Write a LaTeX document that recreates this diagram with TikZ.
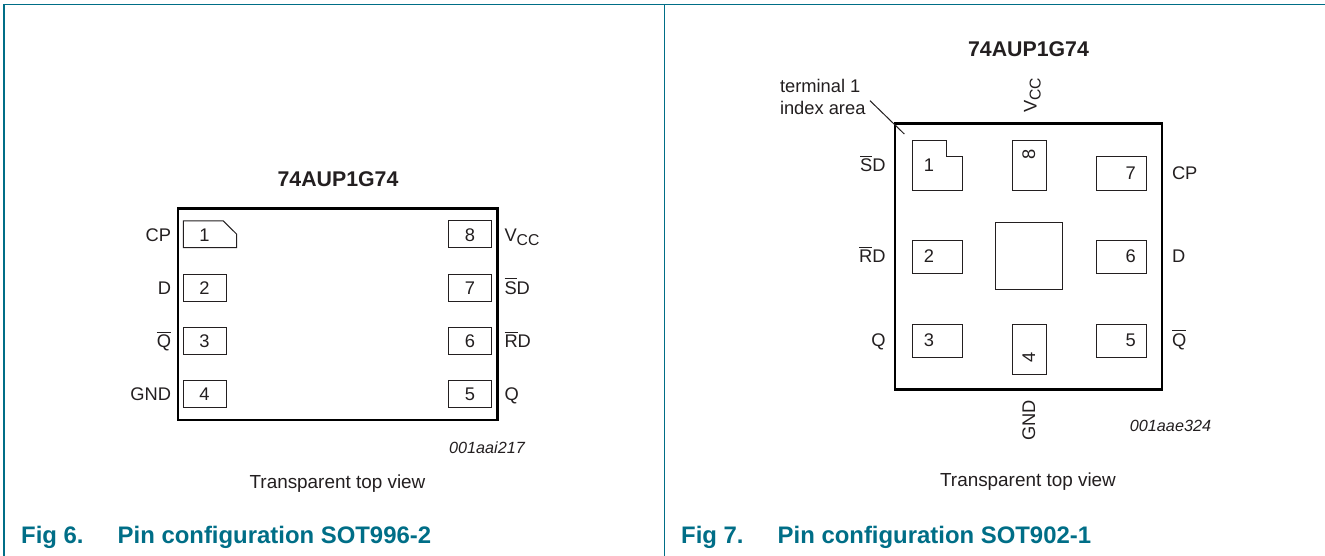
\documentclass[tikz,border=0pt]{standalone}
\usepackage{fontspec}
\setmainfont{Liberation Sans}
\definecolor{frameteal}{RGB}{0,110,135}
\definecolor{inktext}{RGB}{35,31,32}
\newcommand{\ovb}[1]{\vbox{\hrule height 1pt \kern 2pt \hbox{#1}}}
\newcommand{\vcclabel}{V\raisebox{-4pt}{\fontsize{15.7}{17}\selectfont CC}}
\tikzset{
  x=1pt,y=-1pt,
  framerule/.style={draw=frameteal,line width=1.2pt},
  chipbody/.style={draw=black,line width=2.4pt},
  padbox/.style={draw=inktext,line width=1pt,line join=miter},
  txt/.style={font=\fontsize{18.3}{20}\selectfont,text=inktext,inner sep=0pt,outer sep=0pt},
  lbl/.style={txt,anchor=base},
  lblr/.style={txt,anchor=base east},
  lbll/.style={txt,anchor=base west},
  viewtxt/.style={font=\fontsize{18.9}{21}\selectfont,text=inktext,inner sep=0pt,anchor=base},
  ttl/.style={font=\fontsize{21.3}{24}\bfseries\selectfont,text=inktext,inner sep=0pt,anchor=base},
  codetxt/.style={font=\fontsize{16.2}{18}\itshape\selectfont,text=inktext,inner sep=0pt,anchor=base},
  captxt/.style={font=\fontsize{23.9}{26}\bfseries\selectfont,text=frameteal,inner sep=0pt,anchor=base west},
}
\begin{document}
\begin{tikzpicture}
\useasboundingbox (0,0) rectangle (1325,556);
\fill[white] (0,0) rectangle (1325,556);
% frame
\draw[framerule] (4,556) -- (4,4.5) -- (1325,4.5);
\draw[framerule] (664.5,4.5) -- (664.5,556);
% left chip
\draw[chipbody] (177.8,208.5) rectangle (497.3,420);
\node[ttl] (ltitle) at (338,186.3) {74AUP1G74};
\draw[padbox] (183.3,221) -- (223.3,221) -- (236.5,234) -- (236.5,247.7) -- (183.3,247.7) -- cycle;
\draw[padbox] (183.3,274.2) rectangle (226,301);
\draw[padbox] (183.3,327.3) rectangle (226,354);
\draw[padbox] (183.3,380.5) rectangle (226,407);
\draw[padbox] (448.7,221) rectangle (491.3,247.7);
\draw[padbox] (448.7,274.2) rectangle (491.3,301);
\draw[padbox] (448.7,327.3) rectangle (491.3,354);
\draw[padbox] (448.7,380.5) rectangle (491.3,407);
\node[lbl] (ln1) at (204.5,241) {1};
\node[lbl] (ln2) at (204.5,294) {2};
\node[lbl] (ln3) at (204.5,347.3) {3};
\node[lbl] (ln4) at (204.5,400.5) {4};
\node[lbl] (ln8) at (470,241) {8};
\node[lbl] (ln7) at (470,294) {7};
\node[lbl] (ln6) at (470,347.3) {6};
\node[lbl] (ln5) at (470,400.5) {5};
\node[lblr] (lcp) at (171,241) {CP};
\node[lblr] (ld) at (171,294) {D};
\node[lblr] (lqb) at (171,347.3) {\ovb{Q}};
\node[lblr] (lgnd) at (171,400.5) {GND};
\node[lbll] (lvcc) at (504.5,241) {\vcclabel};
\node[lbll] (lsd) at (504.5,294) {\ovb{S}D};
\node[lbll] (lrd) at (504.5,347.3) {\ovb{R}D};
\node[lbll] (lq) at (504.5,400.5) {Q};
\node[codetxt] (lcode) at (487,453) {001aai217};
\node[viewtxt] (lview) at (337.5,488) {Transparent top view};
\node[captxt] (lcap1) at (21,543) {Fig 6.};
\node[captxt] (lcap2) at (117.5,543) {Pin configuration SOT996-2};
% right chip
\draw[chipbody] (895,123.5) rectangle (1162,389.5);
\node[ttl] (rtitle) at (1028.5,56.7) {74AUP1G74};
\draw[padbox] (912.7,140.7) -- (946,140.7) -- (946,156.7) -- (962.7,156.7) -- (962.7,190.3) -- (912.7,190.3) -- cycle;
\draw[padbox] (1012.7,140.7) rectangle (1046.3,190.3);
\draw[padbox] (1096,157) rectangle (1146.3,190.3);
\draw[padbox] (912.7,240.5) rectangle (962.7,273.8);
\draw[padbox] (1096,240.5) rectangle (1146.3,273.8);
\draw[padbox] (912.7,324) rectangle (962.7,357.2);
\draw[padbox] (1096,324) rectangle (1146.3,357.2);
\draw[padbox] (1012.7,324) rectangle (1046.3,374);
\draw[padbox] (995,222.7) rectangle (1062,289.7);
\node[lbl] (rn1) at (929,172) {1};
\node[lbl] (rn2) at (929,262.7) {2};
\node[lbl] (rn3) at (929,346) {3};
\node[lbl] (rn7) at (1130.7,179.5) {7};
\node[lbl] (rn6) at (1130.7,262.7) {6};
\node[lbl] (rn5) at (1130.7,346) {5};
\node[txt,rotate=90,anchor=base] (rn8) at (1035,154) {8};
\node[txt,rotate=90,anchor=base] (rn4) at (1035,357) {4};
\node[lblr] (rsd) at (885.5,172) {\ovb{S}D};
\node[lblr] (rrd) at (885.5,262.7) {\ovb{R}D};
\node[lblr] (rq) at (885.5,346) {Q};
\node[lbll] (rcp) at (1172,179.5) {CP};
\node[lbll] (rd) at (1172,262.7) {D};
\node[lbll] (rqb) at (1172,346) {\ovb{Q}};
\node[txt,rotate=90,anchor=base west] (rvcc) at (1036.5,112.7) {\vcclabel};
\node[txt,rotate=90,anchor=base west] (rgnd) at (1035,440.7) {GND};
\node[codetxt] (rcode) at (1170.5,431.7) {001aae324};
\node[viewtxt] (rview) at (1028,486.5) {Transparent top view};
\node[lbll] (rterm1) at (780,92.3) {terminal 1};
\node[lbll] (rterm2) at (780,114.3) {index area};
\coordinate (leadA) at (870,100.7);
\coordinate (leadB) at (904.3,134);
\draw[padbox] (leadA) -- (leadB);
\node[captxt] (rcap1) at (681,543) {Fig 7.};
\node[captxt] (rcap2) at (777.5,543) {Pin configuration SOT902-1};
\end{tikzpicture}
\end{document}
